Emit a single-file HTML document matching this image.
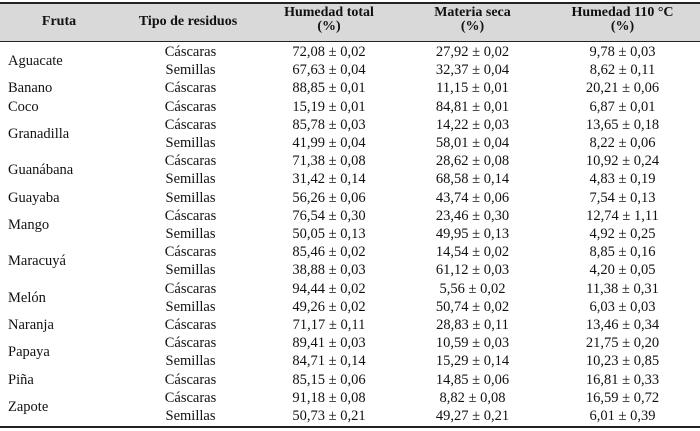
<!DOCTYPE html>
<html><head><meta charset="utf-8">
<style>
body{margin:0;width:700px;height:431px;background:#fff;position:relative;overflow:hidden;font-family:"Liberation Serif",serif;font-size:14.5px;color:#111}
.c{position:absolute;white-space:nowrap;line-height:16px}
.h{font-weight:bold;text-align:center;line-height:14px;font-size:14px}
</style></head><body>
<div style="position:absolute;left:0;top:3px;width:700px;height:38px;background:#d9d9d9"></div>
<div style="position:absolute;left:0;top:2px;width:700px;height:2px;background:#222"></div>
<div style="position:absolute;left:0;top:41px;width:700px;height:1px;background:#222"></div>
<div style="position:absolute;left:0;top:426px;width:700px;height:2px;background:#222"></div>
<div class="c h" style="left:0;width:118px;top:15px">Fruta</div>
<div class="c h" style="left:118px;width:140px;top:15px">Tipo de residuos</div>
<div class="c h" style="left:258px;width:142px;top:6px">Humedad total<br>(%)</div>
<div class="c h" style="left:400px;width:145px;top:6px">Materia seca<br>(%)</div>
<div class="c h" style="left:545px;width:155px;top:6px">Humedad 110 °C<br>(%)</div>
<div id="rows"></div>
<script>
const fruits=[["Aguacate",2],["Banano",1],["Coco",1],["Granadilla",2],["Guanábana",2],["Guayaba",1],["Mango",2],["Maracuyá",2],["Melón",2],["Naranja",1],["Papaya",2],["Piña",1],["Zapote",2]];
const tipo=["Cáscaras","Semillas","Cáscaras","Cáscaras","Cáscaras","Semillas","Cáscaras","Semillas","Semillas","Cáscaras","Semillas","Cáscaras","Semillas","Cáscaras","Semillas","Cáscaras","Cáscaras","Semillas","Cáscaras","Cáscaras","Semillas"];
const ht=["72,08 ± 0,02","67,63 ± 0,04","88,85 ± 0,01","15,19 ± 0,01","85,78 ± 0,03","41,99 ± 0,04","71,38 ± 0,08","31,42 ± 0,14","56,26 ± 0,06","76,54 ± 0,30","50,05 ± 0,13","85,46 ± 0,02","38,88 ± 0,03","94,44 ± 0,02","49,26 ± 0,02","71,17 ± 0,11","89,41 ± 0,03","84,71 ± 0,14","85,15 ± 0,06","91,18 ± 0,08","50,73 ± 0,21"];
const ms=["27,92 ± 0,02","32,37 ± 0,04","11,15 ± 0,01","84,81 ± 0,01","14,22 ± 0,03","58,01 ± 0,04","28,62 ± 0,08","68,58 ± 0,14","43,74 ± 0,06","23,46 ± 0,30","49,95 ± 0,13","14,54 ± 0,02","61,12 ± 0,03","5,56 ± 0,02","50,74 ± 0,02","28,83 ± 0,11","10,59 ± 0,03","15,29 ± 0,14","14,85 ± 0,06","8,82 ± 0,08","49,27 ± 0,21"];
const h110=["9,78 ± 0,03","8,62 ± 0,11","20,21 ± 0,06","6,87 ± 0,01","13,65 ± 0,18","8,22 ± 0,06","10,92 ± 0,24","4,83 ± 0,19","7,54 ± 0,13","12,74 ± 1,11","4,92 ± 0,25","8,85 ± 0,16","4,20 ± 0,05","11,38 ± 0,31","6,03 ± 0,03","13,46 ± 0,34","21,75 ± 0,20","10,23 ± 0,85","16,81 ± 0,33","16,59 ± 0,72","6,01 ± 0,39"];
const top0=43;
const root=document.getElementById('rows');
function cell(txt,left,width,y,align,name){const d=document.createElement('div');d.className='c';d.textContent=txt;d.style.left=left+'px';d.style.width=width+'px';d.style.top=(y-8)+'px';d.style.textAlign=align;


root.appendChild(d);}
const n=tipo.length;const step=(425-top0)/n;
let r=0;
fruits.forEach(f=>{const y=top0+step*(r+f[1]/2);cell(f[0],8,110,y,'left','fruit-name');r+=f[1];});
for(let i=0;i<n;i++){const y=top0+step*(i+0.5);
cell(tipo[i],118,145,y,'center','residue-type');
cell(ht[i],258,142,y,'center','humedad-total-value');
cell(ms[i],400,145,y,'center','materia-seca-value');
cell(h110[i],545,155,y,'center','humedad-110-value');}
</script>
</body></html>
